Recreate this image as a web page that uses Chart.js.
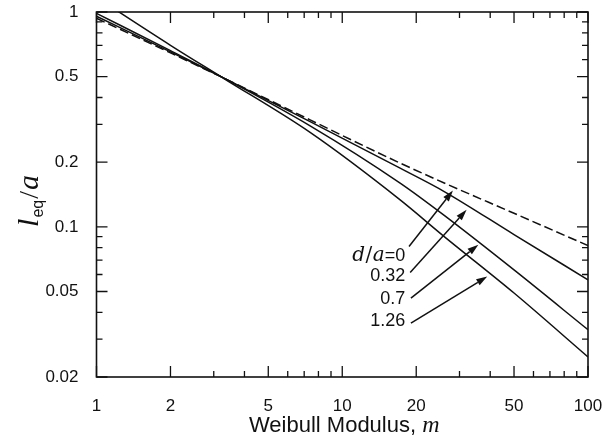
<!DOCTYPE html>
<html><head><meta charset="utf-8">
<script src="https://cdn.jsdelivr.net/npm/chart.js@4/dist/chart.umd.min.js"></script>
<style>html,body{margin:0;padding:0;background:#fff;}</style>
</head><body>
<canvas id="c" width="613" height="440"></canvas>
<script>
// ---- data ----
const modulus = [1, 2, 3.3, 7.4, 17.2, 26, 50, 100];
const seriesDa0  = [0.935, 0.645, 0.492, 0.3146, 0.198, 0.160, 0.1156, 0.0818];
const seriesDa032 = [0.955, 0.652, 0.492, 0.309, 0.1875, 0.146, 0.092, 0.0567];
const seriesDa07  = [0.985, 0.661, 0.492, 0.295, 0.1597, 0.113, 0.063, 0.0332];
const seriesDa126 = [1.17, 0.70, 0.490, 0.275, 0.1335, 0.0901, 0.0492, 0.0248];
const seriesNames = ['d/a=0', '0.32', '0.7', '1.26'];
const xTickValues = [1, 2, 5, 10, 20, 50, 100];
const yTickValues = [0.02, 0.05, 0.1, 0.2, 0.5, 1];
const xMinorTicks = [3, 4, 6, 7, 8, 9, 30, 40, 60, 70, 80, 90];
const yMinorTicks = [0.03, 0.04, 0.06, 0.07, 0.08, 0.09, 0.3, 0.4, 0.6, 0.7, 0.8, 0.9];
// annotation anchors (data coordinates)
const labelM = 18.05;
const labelV = [0.0741, 0.0598, 0.0468, 0.0369];
const arrowFrom = [[18.69, 0.081], [18.9, 0.0613], [19.03, 0.0466], [19.03, 0.0356]];
const arrowTo   = [[28.2, 0.1475], [32.06, 0.12], [35.8, 0.0825], [38.9, 0.0587]];

const INK = '#111';
const SANS = '"Liberation Sans", Arial, sans-serif';
const SERIF = '"Liberation Serif", "Times New Roman", serif';
const DSERIF = '"DejaVu Serif", serif';

function pts(vals){ return modulus.map((m,i)=>({x:m, y:vals[i]})); }
function runsWidth(ctx, runs){ let w=0; for(const r of runs){ ctx.font=r.font; w+=ctx.measureText(r.t).width+(r.gap||0);} return w; }
function drawRuns(ctx, runs, x0, yb){ let xx=x0; for(const r of runs){ ctx.font=r.font; ctx.fillText(r.t, xx, yb+(r.dy||0)); xx+=ctx.measureText(r.t).width+(r.gap||0);} }

const decor = {
  id: 'decor',
  afterDraw(chart){
    const {ctx, chartArea:a, scales:{x, y}} = chart;
    ctx.save();
    ctx.strokeStyle = INK; ctx.fillStyle = INK;
    ctx.lineWidth = 1.6;
    ctx.strokeRect(a.left, a.top, a.right-a.left, a.bottom-a.top);
    ctx.lineWidth = 1.3;
    ctx.beginPath();
    const seg=(x1,y1,x2,y2)=>{ctx.moveTo(x1,y1);ctx.lineTo(x2,y2);};
    for(const v of xTickValues){ const p=x.getPixelForValue(v); seg(p,a.bottom,p,a.bottom-11); seg(p,a.top,p,a.top+11); }
    for(const v of xMinorTicks){ const p=x.getPixelForValue(v); seg(p,a.bottom,p,a.bottom-6); seg(p,a.top,p,a.top+6); }
    for(const v of yTickValues){ const p=y.getPixelForValue(v); seg(a.left,p,a.left+11,p); seg(a.right,p,a.right-11,p); }
    for(const v of yMinorTicks){ const p=y.getPixelForValue(v); seg(a.left,p,a.left+6,p); seg(a.right,p,a.right-6,p); }
    ctx.stroke();

    // arrows
    ctx.lineWidth = 1.5;
    arrowFrom.forEach((f,i)=>{
      const x1=x.getPixelForValue(f[0]), y1=y.getPixelForValue(f[1]);
      const x2=x.getPixelForValue(arrowTo[i][0]), y2=y.getPixelForValue(arrowTo[i][1]);
      const ang=Math.atan2(y2-y1,x2-x1), L=11, W=3.5;
      const bx=x2-L*Math.cos(ang), by=y2-L*Math.sin(ang);
      ctx.beginPath(); ctx.moveTo(x1,y1); ctx.lineTo(bx,by); ctx.stroke();
      ctx.beginPath(); ctx.moveTo(x2,y2);
      ctx.lineTo(bx+W*Math.sin(ang), by-W*Math.cos(ang));
      ctx.lineTo(bx-W*Math.sin(ang), by+W*Math.cos(ang));
      ctx.closePath(); ctx.fill();
    });

    // series labels
    ctx.textBaseline = 'alphabetic';
    const lx = x.getPixelForValue(labelM);
    seriesNames.forEach((name,i)=>{
      let runs;
      if(name.startsWith('d/a')){
        runs=[{t:'d',font:'italic 20px '+DSERIF,gap:0.5},{t:'/',font:'20px '+DSERIF,gap:0.5},{t:'a',font:'italic 20px '+DSERIF,gap:0},{t:name.slice(3),font:'18px '+SANS}];
      } else runs=[{t:name,font:'18px '+SANS}];
      const w=runsWidth(ctx,runs);
      drawRuns(ctx, runs, lx-w, y.getPixelForValue(labelV[i])+6.5);
    });

    // x title
    const xr=[{t:'Weibull Modulus, ',font:'22px '+SANS},{t:'m',font:'italic 24px '+SERIF}];
    const xw=runsWidth(ctx,xr);
    drawRuns(ctx, xr, (a.left+a.right)/2 - xw/2 + 2, 432);

    // y title (rotated)
    ctx.translate(38, 201);
    ctx.rotate(-Math.PI/2);
    const yr=[{t:'l',font:'italic 30px '+SERIF,gap:1},{t:'eq',font:'16px '+SANS,dy:5,gap:1},{t:'/',font:'28px '+SERIF,gap:1},{t:'a',font:'italic 30px '+SERIF}];
    const yw=runsWidth(ctx,yr);
    drawRuns(ctx, yr, -yw/2, 0);
    ctx.restore();
  }
};

const common = {borderColor: INK, borderWidth: 1.5, pointRadius: 0, fill: false, cubicInterpolationMode: 'monotone'};

new Chart(document.getElementById('c'), {
  type: 'line',
  data: { datasets: [
    Object.assign({label: seriesNames[0], data: pts(seriesDa0), borderDash: [9,4]}, common),
    Object.assign({label: seriesNames[1], data: pts(seriesDa032)}, common),
    Object.assign({label: seriesNames[2], data: pts(seriesDa07)}, common),
    Object.assign({label: seriesNames[3], data: pts(seriesDa126)}, common)
  ]},
  options: {
    responsive: false, animation: false, devicePixelRatio: 1,
    layout: {padding: {left: 0, top: 12, right: 25, bottom: 0}},
    plugins: {legend: {display: false}, tooltip: {enabled: false}},
    scales: {
      x: {
        type: 'logarithmic', min: 1, max: 100,
        grid: {display: false}, border: {display: false},
        afterBuildTicks: s => { s.ticks = xTickValues.map(v => ({value: v})); },
        afterFit: s => { s.height = 63; s.paddingLeft = 0; s.paddingRight = 0; },
        ticks: {color: INK, font: {family: SANS, size: 17}, padding: 11, maxRotation: 0, autoSkip: false,
                callback: v => String(v)}
      },
      y: {
        type: 'logarithmic', min: 0.02, max: 1,
        grid: {display: false}, border: {display: false},
        afterBuildTicks: s => { s.ticks = yTickValues.map(v => ({value: v})); },
        afterFit: s => { s.width = 96.5; s.paddingTop = 0; s.paddingBottom = 0; },
        ticks: {color: INK, font: {family: SANS, size: 17}, padding: 10, autoSkip: false,
                callback: v => String(v)}
      }
    }
  },
  plugins: [decor]
});
</script>
</body></html>
